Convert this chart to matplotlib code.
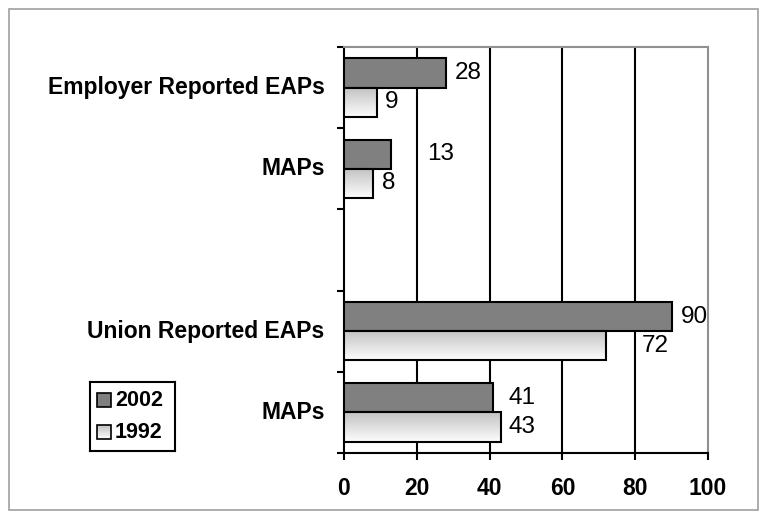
import numpy as np
import matplotlib.pyplot as plt
from matplotlib.patches import Rectangle

plt.rcParams['font.family'] = ['Liberation Sans', 'DejaVu Sans']

slots = [0, 1, 3, 4]
labels = ["Employer Reported EAPs", "MAPs", "Union Reported EAPs", "MAPs"]
v2002 = [28, 13, 90, 41]
v1992 = [9, 8, 72, 43]
# extra horizontal nudge of the value labels (as in the original)
pad2002 = [2.5, 9.8, 2.6, 4.3]
pad1992 = [2.3, 2.4, 9.9, 2.3]

fig = plt.figure(figsize=(7.67, 5.19), dpi=100)
fig.patches.append(Rectangle((9/767, 1-510/519), 749/767, 501/519, transform=fig.transFigure,
                             fill=False, edgecolor='#a0a0a0', lw=1.2))
ax = fig.add_axes([344/767, 1-453/519, 364/767, 406/519])

h = 0.36
grad = np.linspace(0.76, 0.99, 64).reshape(-1, 1)

for s, a, b in zip(slots, v2002, v1992):
    ax.barh(s + 0.32, a, height=h, color='#808080', edgecolor='black', lw=1.5, zorder=3)
    bar = ax.barh(s + 0.68, b, height=h, color='none', edgecolor='black', lw=1.5, zorder=4)[0]
    im = ax.imshow(grad, cmap='gray', vmin=0, vmax=1, aspect='auto',
                   extent=(0, b, s + 0.68 + h/2, s + 0.68 - h/2), zorder=3)
    im.set_clip_path(bar)

for s, a, b, pa, pb in zip(slots, v2002, v1992, pad2002, pad1992):
    ax.text(a + pa, s + 0.32, str(a), va='center', ha='left', fontsize=17.5, zorder=5)
    ax.text(b + pb, s + 0.68, str(b), va='center', ha='left', fontsize=17.5, zorder=5)

ax.set_xlim(0, 100)
ax.set_ylim(5, 0)
ax.set_xticks(range(0, 101, 20))
ax.set_xticklabels([str(v) for v in range(0, 101, 20)], fontweight='bold', fontsize=16.5)
ax.set_yticks(range(6))
ax.set_yticklabels([])
ax.tick_params(axis='both', direction='out', length=5, width=1.5, color='black')
ax.tick_params(axis='x', pad=12)
for x in [20, 40, 60, 80]:
    ax.axvline(x, color='black', lw=1.5, zorder=1)
ax.spines['left'].set_linewidth(1.5)
ax.spines['bottom'].set_linewidth(1.5)
ax.spines['top'].set_color('#909090')
ax.spines['right'].set_color('#909090')
ax.spines['top'].set_linewidth(1.5)
ax.spines['right'].set_linewidth(1.5)

for s, lab in zip(slots, labels):
    ax.text(-0.053, s + 0.5, lab, transform=ax.get_yaxis_transform(), ha='right', va='center',
            fontweight='bold', fontsize=16.5)

# legend
lax = fig.add_axes([90/767, 1-451/519, 85/767, 69/519])
lax.set_xticks([])
lax.set_yticks([])
for sp in lax.spines.values():
    sp.set_linewidth(1.5)
lax.add_patch(Rectangle((7, 11), 14, 14, facecolor='#808080', edgecolor='black', lw=1.2))
sq = Rectangle((7, 43), 14, 14, facecolor='none', edgecolor='black', lw=1.2, zorder=3)
lax.add_patch(sq)
im = lax.imshow(grad, cmap='gray', vmin=0, vmax=1, aspect='auto', extent=(7, 21, 57, 43), zorder=2)
im.set_clip_path(sq)
lax.set_xlim(0, 85)
lax.set_ylim(69, 0)
lax.text(25, 18, "2002", va='center', ha='left', fontweight='bold', fontsize=15.5)
lax.text(25, 50, "1992", va='center', ha='left', fontweight='bold', fontsize=15.5)

fig.savefig("out.png", dpi=100)
